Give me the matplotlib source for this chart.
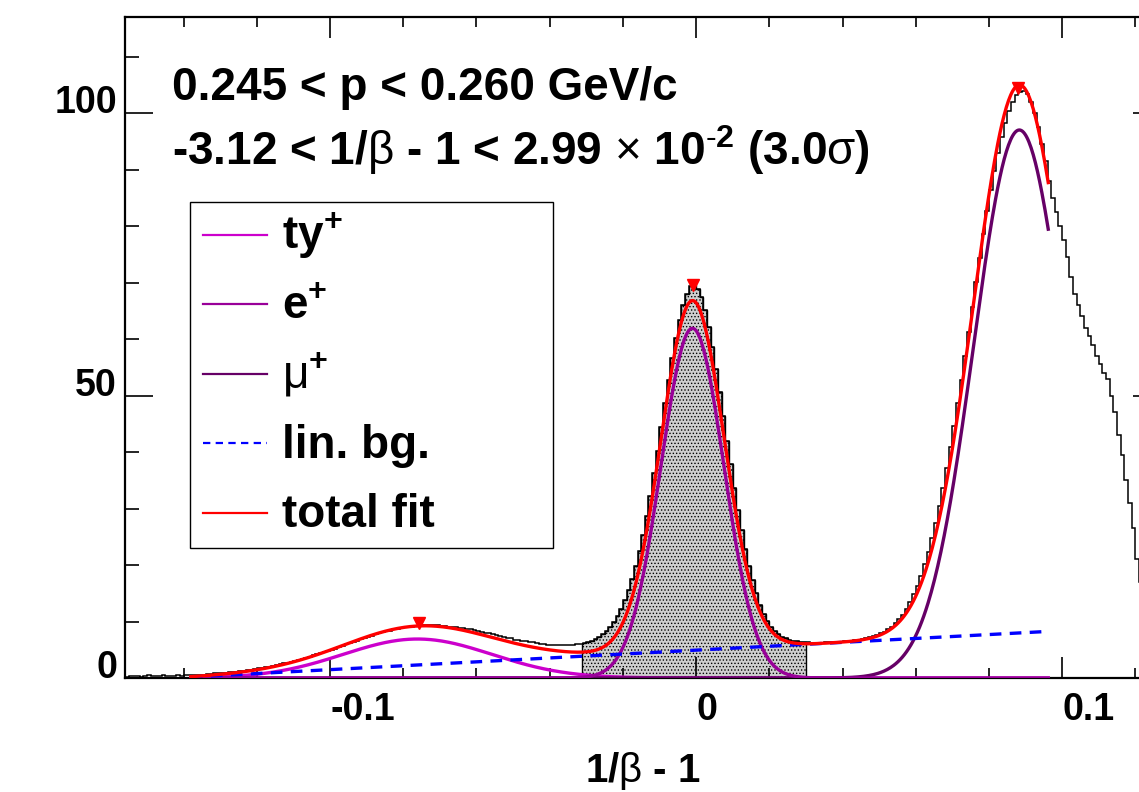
import numpy as np
import matplotlib
matplotlib.use('Agg')
import matplotlib.pyplot as plt
from matplotlib.lines import Line2D
from matplotlib.patches import Rectangle

plt.rcParams['font.family'] = 'Liberation Sans'
plt.rcParams['font.weight'] = 'bold'
plt.rcParams['mathtext.fontset'] = 'custom'
plt.rcParams['mathtext.rm'] = 'Liberation Sans:weight=normal'
plt.rcParams['mathtext.bf'] = 'Liberation Sans:bold'
plt.rcParams['mathtext.it'] = 'Liberation Sans:italic'
plt.rcParams['hatch.linewidth'] = 0.6

# histogram of 1/beta - 1, bins of 0.001 starting at -0.156
bin_lo = -0.156
bin_w = 0.001
counts = [
    0.2, 0.3, 0.4, 0.3, 0.2, 0.4, 0.5, 0.3, 0.3, 0.4,         # -0.1555
    0.5, 0.4, 0.3, 0.4, 0.5, 0.4, 0.5, 0.5, 0.5, 0.5,         # -0.1455
    0.6, 0.6, 0.7, 0.7, 0.8, 0.8, 0.9, 0.9, 1.0, 1.1,         # -0.1355
    1.1, 1.2, 1.3, 1.4, 1.5, 1.6, 1.7, 1.8, 1.9, 2.0,         # -0.1255
    2.1, 2.3, 2.4, 2.6, 2.7, 2.9, 3.0, 3.2, 3.4, 3.6,         # -0.1155
    3.8, 4.0, 4.2, 4.4, 4.6, 4.8, 5.0, 5.2, 5.5, 5.7,         # -0.1055
    6.0, 6.2, 6.4, 6.6, 6.9, 7.1, 7.3, 7.5, 7.7, 7.9,         # -0.0955
    8.1, 8.3, 8.4, 8.6, 8.7, 8.9, 9.0, 9.0, 9.1, 9.2,         # -0.0855
    9.3, 9.3, 9.3, 9.4, 9.3, 9.3, 9.2, 9.2, 9.1, 9.1,         # -0.0755
    9.0, 8.9, 8.8, 8.7, 8.6, 8.5, 8.3, 8.2, 8.0, 7.9,         # -0.0655
    7.7, 7.6, 7.4, 7.3, 7.1, 7.0, 6.8, 6.7, 6.6, 6.5,         # -0.0555
    6.4, 6.3, 6.2, 6.1, 6.0, 5.9, 5.8, 5.8, 5.8, 5.8,         # -0.0455
    5.8, 5.9, 5.9, 6.0, 6.1, 6.2, 6.4, 6.6, 6.9, 7.3,         # -0.0355
    7.8, 8.3, 9.0, 9.9, 11.0, 12.3, 13.8, 15.6, 17.6, 19.9,   # -0.0255
    22.5, 25.4, 28.7, 32.3, 36.2, 40.2, 44.4, 48.6, 52.7, 56.6,  # -0.0155
    60.2, 63.3, 66.0, 68.0, 69.3, 69.6, 68.9, 67.4, 65.1, 62.1,  # -0.0055
    58.6, 54.7, 50.6, 46.3, 42.0, 37.8, 33.7, 29.8, 26.2, 22.9,  # 0.0045
    19.9, 17.3, 15.0, 13.0, 11.4, 10.1, 9.1, 8.3, 7.7, 7.3,   # 0.0145
    7.0, 6.8, 6.6, 6.5, 6.4, 6.3, 6.3, 6.2, 6.2, 6.2,         # 0.0245
    6.2, 6.3, 6.3, 6.3, 6.4, 6.4, 6.5, 6.5, 6.6, 6.7,         # 0.0345
    6.8, 6.9, 7.0, 7.2, 7.4, 7.6, 7.9, 8.2, 8.6, 9.1,         # 0.0445
    9.7, 10.4, 11.2, 12.2, 13.4, 14.8, 16.3, 18.1, 20.1, 22.3,  # 0.0545
    24.8, 27.5, 30.5, 33.7, 37.1, 40.8, 44.6, 48.6, 52.7, 57.0,  # 0.0645
    61.3, 65.7, 70.1, 74.4, 78.6, 82.6, 86.4, 89.8, 93.0, 95.8,  # 0.0745
    98.3, 100.3, 102.0, 103.2, 103.8, 103.9, 103.3, 102.0, 100.0, 97.5,  # 0.0845
    94.5, 91.5, 88.0, 85.0, 82.5, 80.0, 77.5, 74.5, 71.0, 68.0,  # 0.0945
    66.0, 64.0, 62.0, 60.5, 59.0, 57.0, 55.5, 54.0, 53.0, 50.0,  # 0.1045
    47.0, 43.0, 39.5, 35.0, 31.0, 26.5, 21.0, 17.0, 14.0, 12.0,  # 0.1145
    10.0, 8.5, 7.0,                                            # 0.1245
]

# selection window (3 sigma around e+)
cut_lo = -0.0312
cut_hi = 0.0299

# fit components (gaussians + linear background)
fit_range = (-0.138, 0.0962)
ty_amp, ty_mean, ty_sigma = 6.9, -0.0761, 0.0203
e_amp, e_mean, e_sigma = 61.9, -0.0010, 0.0086
mu_amp, mu_mean, mu_sigma = 97.0, 0.0883, 0.0125
bg_const, bg_slope = 4.93, 34.5

# peak markers
peak_x = [-0.0757, -0.0008, 0.0880]
peak_y = [9.7, 69.6, 104.5]

legend_labels = [r'$\mathbf{ty}^{\mathbf{+}}$', r'$\mathbf{e}^{\mathbf{+}}$',
                 r'$\mathrm{\mu}^{\mathbf{+}}$', 'lin. bg.', 'total fit']

col_ty = '#cc00cc'
col_e = '#990099'
col_mu = '#660066'
col_bg = '#0000ff'
col_tot = '#ff0000'


def gaus(x, a, m, s):
    return a * np.exp(-0.5 * ((x - m) / s) ** 2)


fig = plt.figure(figsize=(11.39, 7.92), dpi=100)
ax = fig.add_axes([125 / 1139, 114 / 792, 1036 / 1139, 661 / 792])

edges = bin_lo + bin_w * np.arange(len(counts) + 1)
vals = np.array(counts)

# shaded window
i0 = int(np.floor((cut_lo - bin_lo) / bin_w))
i1 = int(np.floor((cut_hi - bin_lo) / bin_w))
sub_edges = np.concatenate([[cut_lo], edges[i0 + 1:i1 + 1], [cut_hi]])
sub_vals = vals[i0:i1 + 1]
ax.stairs(sub_vals, sub_edges, fill=True, facecolor='#cfcfcf', edgecolor='black',
          hatch='.....', linewidth=1.0, zorder=1)

ax.stairs(vals, edges, color='black', linewidth=1.1, zorder=2)

xf = np.linspace(fit_range[0], fit_range[1], 800)
y_ty = gaus(xf, ty_amp, ty_mean, ty_sigma)
y_e = gaus(xf, e_amp, e_mean, e_sigma)
y_mu = gaus(xf, mu_amp, mu_mean, mu_sigma)
y_bg = bg_const + bg_slope * xf
y_tot = y_ty + y_e + y_mu + y_bg

lw = 2.4
ax.plot(xf, y_ty, color=col_ty, lw=lw, zorder=3)
ax.plot(xf, y_mu, color=col_mu, lw=lw, zorder=3)
ax.plot(xf, y_e, color=col_e, lw=lw, zorder=3)
ax.plot(xf, y_bg, color=col_bg, lw=lw, dashes=(3.5, 2.5), zorder=4)
ax.plot(xf, y_tot, color=col_tot, lw=lw, zorder=5)
ax.plot(peak_x, peak_y, 'v', color=col_tot, ms=9, zorder=6)

ax.set_xlim(-0.156, 0.127)
ax.set_ylim(0, 117)

ax.set_xticks([-0.1, 0, 0.1], labels=['-0.1', '0', '0.1'], ha='left')
ax.set_xticks([-0.14, -0.12, -0.08, -0.06, -0.04, -0.02, 0.02, 0.04, 0.06, 0.08, 0.12], minor=True)
ax.set_yticks([0, 50, 100], labels=['0', '50', '100'], va='baseline')
ax.set_yticks([10, 20, 30, 40, 60, 70, 80, 90, 110], minor=True)

ax.tick_params(which='both', direction='in', top=True, right=True, width=1.2, labelsize=27)
ax.tick_params(axis='x', which='major', length=15, pad=10)
ax.tick_params(axis='x', which='minor', length=7.5)
ax.tick_params(axis='y', which='major', length=20, pad=5.8)
ax.tick_params(axis='y', which='minor', length=10)
for sp in ax.spines.values():
    sp.set_linewidth(1.6)

ax.set_xlabel(r'1/$\mathrm{\beta}$ - 1', fontsize=29, fontweight='bold', va='baseline')
ax.xaxis.set_label_coords(0.5, -(782 - 678) / 661)

ax.text(0.0454, 0.8744, '0.245 < p < 0.260 GeV/c', fontsize=33, va='baseline',
        transform=ax.transAxes)
ax.text(0.0454, 0.776,
        r'-3.12 < 1/$\mathrm{\beta}$ - 1 < 2.99 $\mathrm{\times}$ $\mathbf{10}^{\mathbf{\text{-}2}}$ (3.0$\mathrm{\sigma}$)',
        fontsize=33, va='baseline', transform=ax.transAxes)

# legend box drawn by hand so rows are evenly spaced
box = Rectangle((0.0627, 0.1967), 0.4131 - 0.0627, 0.7201 - 0.1967, transform=ax.transAxes,
                facecolor='white', edgecolor='black', linewidth=1.0, zorder=7)
ax.add_patch(box)
leg_styles = [
    dict(color=col_ty),
    dict(color=col_e),
    dict(color=col_mu),
    dict(color=col_bg, dashes=(3.3, 2.4)),
    dict(color=col_tot),
]
row0 = 0.6702
pitch = 0.10514
for k, (lab, st) in enumerate(zip(legend_labels, leg_styles)):
    yy = row0 - k * pitch
    ax.add_line(Line2D([0.0753, 0.1371], [yy, yy], transform=ax.transAxes, lw=1.6,
                       zorder=8, **st))
    ax.text(0.1515, yy - 0.0212, lab, fontsize=33, va='baseline', transform=ax.transAxes,
            zorder=8)

fig.savefig('out.png', dpi=100)
